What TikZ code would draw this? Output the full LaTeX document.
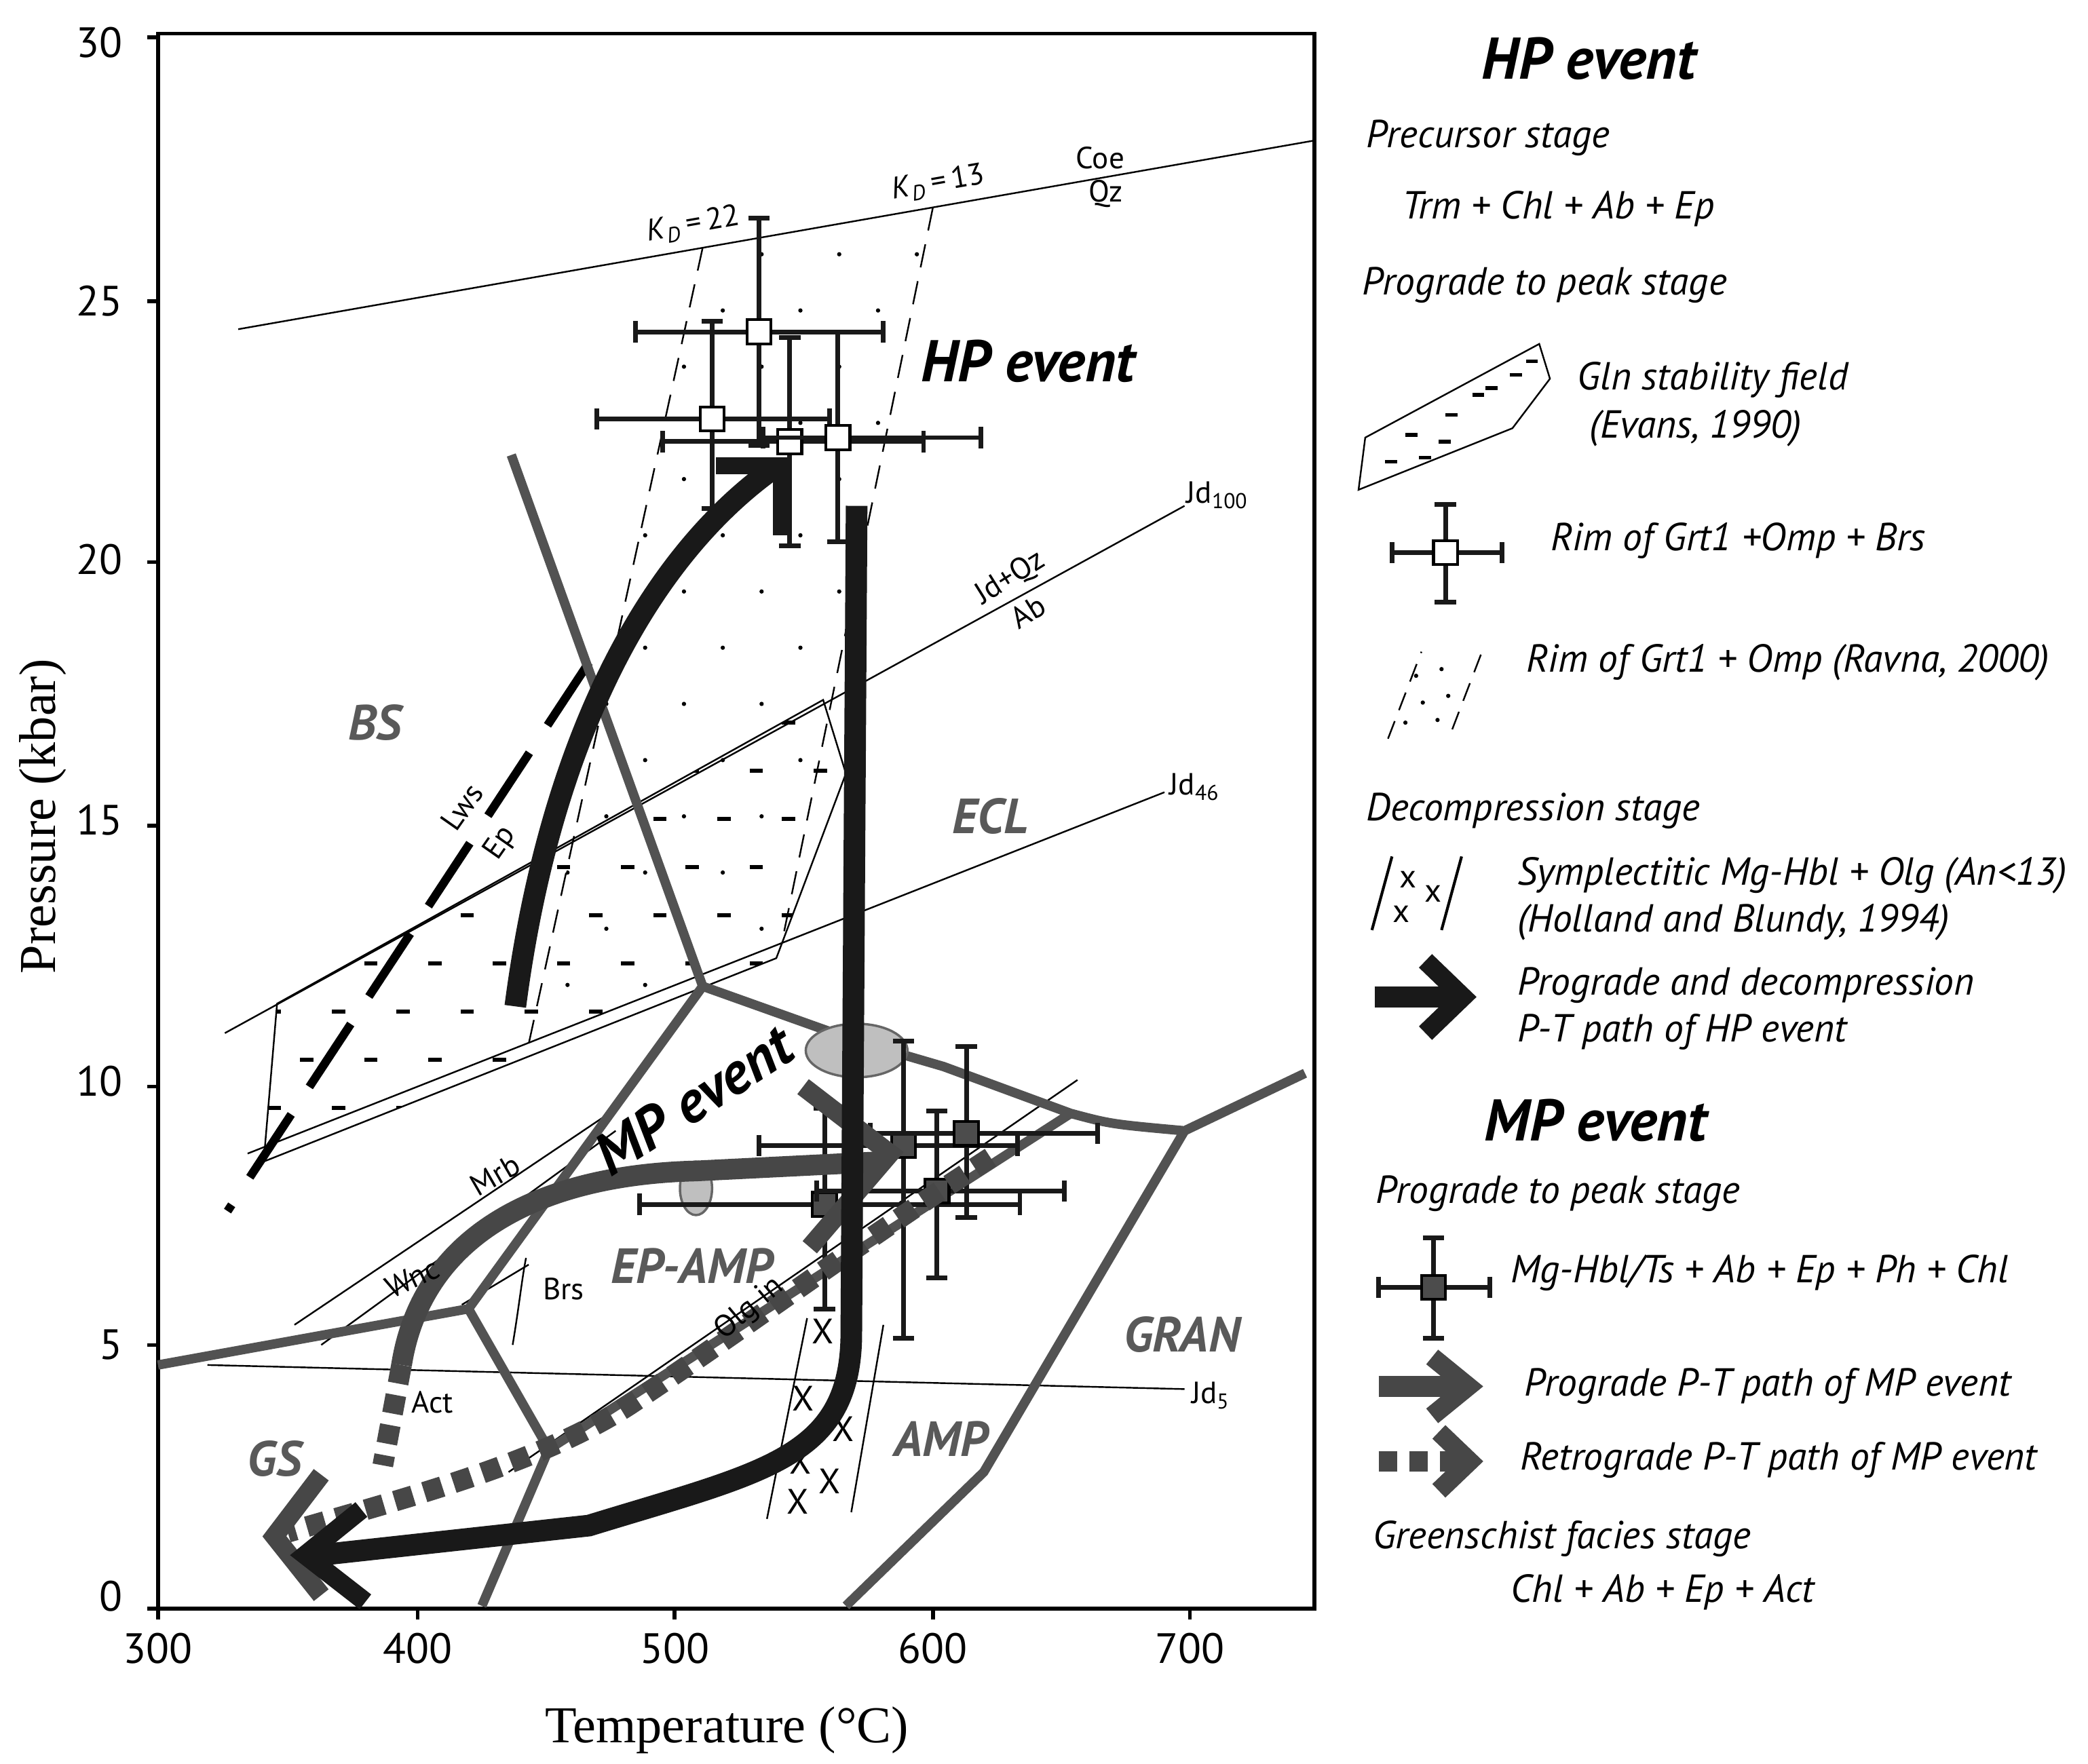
\documentclass[tikz,border=0pt]{standalone}
\usepackage{fontspec}
\setmainfont{Liberation Serif}
\newfontfamily\lgf{PT Sans}
\newcommand{\ebar}[7]{% x y x1 x2 y1 y2 style
  \draw[eb] (#3,#2)--(#4,#2) (#1,#5)--(#1,#6);
  \draw[eb] (#3,#2-8)--(#3,#2+8) (#4,#2-8)--(#4,#2+8) (#1-8,#5)--(#1+8,#5) (#1-8,#6)--(#1+8,#6);
  \node[#7] at (#1,#2) {};}
\begin{document}
\begin{tikzpicture}[x=0.01cm,y=-0.01cm,
  fac/.style={draw=black!68,line width=2pt},
  thin/.style={draw=black,line width=0.35pt},
  blk/.style={draw=black!90,line width=4.6pt},
  mpc/.style={draw=black!72,line width=4.4pt},
  chev/.style={line width=4pt,miter limit=10},
  flab/.style={font=\lgf\bfseries\itshape\fontsize{10.5}{12}\selectfont,text=black!65},
  sl/.style={font=\lgf\fontsize{6.5}{7}\selectfont,inner sep=0.5pt},
  lt/.style={font=\lgf\itshape\fontsize{8.3}{10}\selectfont,anchor=west,inner sep=0pt},
  evt/.style={font=\lgf\bfseries\itshape\fontsize{12.5}{14}\selectfont},
  wsq/.style={draw=black,fill=white,line width=0.6pt,minimum size=0.18cm,inner sep=0pt},
  gsq/.style={draw=black,fill=black!70,line width=0.6pt,minimum size=0.18cm,inner sep=0pt},
  eb/.style={line width=1pt,draw=black!90},
]
\useasboundingbox (0,0) rectangle (1560,1318);
% ---------- frame and axes
\draw[line width=0.8pt] (118,25) rectangle (982,1202);
\foreach \t/\x in {300/118,400/312,500/504,600/697,700/889}{
  \draw[line width=0.8pt] (\x,1202) -- (\x,1210);
  \node[font=\lgf\fontsize{9}{10}\selectfont] at (\x,1232) {\t};}
\foreach \p/\y in {0/1193,5/1005,10/808,15/613,20/418,25/225,30/32}{
  \node[font=\lgf\fontsize{9}{10}\selectfont,anchor=east] at (104,\y) {\p};}
\foreach \y in {1202,1005,812,617,420,225,28}{\draw[line width=0.8pt] (110,\y)--(118,\y);}
\node[font=\fontsize{11}{13}\selectfont] (tl) at (543,1293) {Temperature (°C)};
\node[font=\fontsize{11}{13}\selectfont,rotate=90] (pl) at (32,610) {Pressure (kbar)};
% ---------- pattern fields
\begin{scope}
\clip (525,185)--(697,155)--(584,700)--(395,780)--cycle;
\foreach \r in {0,...,13}{
  \foreach \c in {0,...,6}{
    \pgfmathsetmacro{\xx}{395+\c*58+mod(\r,2)*29}
    \pgfmathsetmacro{\yy}{190+\r*42}
    \fill (\xx,\yy) circle (1.6);}}
\end{scope}
\begin{scope}
\clip (207,750)--(615,523)--(632,578)--(580,716)--(197,868)--cycle;
\foreach \r in {0,...,9}{
  \foreach \c in {0,...,9}{
    \pgfmathsetmacro{\xx}{200+\c*48+mod(\r,2)*24}
    \pgfmathsetmacro{\yy}{540+\r*36}
    \draw[line width=0.8pt] (\xx,\yy) -- ++(10,0);}}
\end{scope}
\draw[thin] (207,750)--(615,523)--(632,578)--(580,716)--(197,868)--cycle;
\draw[thin,dash pattern=on 5pt off 3pt] (525,185)--(395,780);
\draw[thin,dash pattern=on 5pt off 3pt] (697,155)--(584,705);
% ---------- thin reaction lines
\draw[thin] (178,246)--(982,105);
\draw[thin] (168,772)--(885,378);
\draw[thin] (185,862)--(870,592);
\draw[thin] (155,1020)--(885,1038);
\draw[thin] (220,990)--(455,832);
\draw[thin] (240,1005)--(460,845);
\draw[thin] (380,1100)--(805,807);
\draw[thin] (383,1005)..controls (388,975) and (390,955)..(393,940);
\draw[thin] (345,975)--(395,945);
\draw[thin] (573,1135)--(603,985);
\draw[thin] (636,1130)--(660,990);
\foreach \p in {(600,1045),(630,1068),(598,1092),(620,1107),(596,1122),(615,995)}
  \node[font=\lgf\fontsize{7.5}{8}\selectfont,inner sep=0pt] at \p {X};
\draw[line width=1.8pt,dash pattern=on 16pt off 7pt] (440,495)--(170,905);
% ---------- facies boundaries
\draw[fac,line join=round] (382,340)--(525,737)--(640,778)--(705,797)--(800,832)..controls (830,840)..(885,845)--(975,802);
\draw[fac,line join=round] (885,845)--(735,1100)--(632,1200);
\draw[fac,line join=round] (525,737)--(350,978)--(118,1020);
\draw[fac,line join=round] (350,978)--(410,1083)--(360,1200);
\draw[fac] (410,1083)--(800,832);
% ---------- ellipses
\draw[fill=black!25,draw=black!60,line width=0.5pt] (640,785) ellipse (38 and 20);
\draw[fill=black!25,draw=black!60,line width=0.5pt] (520,888) ellipse (12 and 20);
% ---------- HP error bars
\ebar{567}{248}{475}{660}{163}{333}{wsq}
\ebar{532}{313}{446}{620}{240}{380}{wsq}
\ebar{590}{330}{495}{690}{252}{408}{wsq}
\ebar{626}{327}{570}{733}{248}{405}{wsq}
% ---------- MP error bars
\ebar{616}{900}{478}{762}{828}{978}{gsq}
\ebar{700}{890}{610}{795}{830}{955}{gsq}
\ebar{675}{856}{567}{760}{778}{1000}{gsq}
\ebar{722}{847}{650}{820}{782}{910}{gsq}
% ---------- paths
\draw[mpc,dash pattern=on 4pt off 2.5pt] (740,865)..controls (640,930) and (560,990)..(470,1050)..controls (400,1095) and (300,1120)..(215,1145);
\draw[mpc,dash pattern=on 4pt off 2.5pt] (300,1020)--(286,1095);
\draw[mpc,chev] (240,1102)--(205,1148)--(240,1192);
\draw[mpc] (300,1020)..controls (315,925) and (400,878)..(520,875)--(660,868);
\draw[mpc,chev] (600,812)--(665,862)--(605,932);
\draw[blk] (385,752)..controls (410,560) and (480,420)..(578,350);
\draw[black!90,line width=3.6pt,miter limit=10] (535,348)--(584,348)--(584,400);
\draw[blk] (640,378)--(636,1000)..controls (634,1090) and (570,1100)..(440,1140)--(230,1163);
\draw[black!90,chev] (270,1128)--(228,1162)--(273,1197);
% ---------- labels
\node[flab] at (280,540) {BS};
\node[flab] at (740,610) {ECL};
\node[flab] at (517,946) {EP-AMP};
\node[flab] at (883,997) {GRAN};
\node[flab] at (703,1075) {AMP};
\node[flab] at (205,1090) {GS};
\node[evt] at (768,270) {HP event};
\node[evt,rotate=33] at (518,822) {MP event};
\node[sl] at (822,118) {Coe};
\node[sl] at (826,145) {Qz};
\node[sl,rotate=10] at (518,168) {\textit{K}\textsubscript{\textit{D}}\,=\,22};
\node[sl,rotate=10] at (701,137) {\textit{K}\textsubscript{\textit{D}}\,=\,13};
\node[sl] at (910,370) {Jd\textsubscript{100}};
\node[sl] at (893,588) {Jd\textsubscript{46}};
\node[sl] at (905,1043) {Jd\textsubscript{5}};
\node[sl,rotate=32] at (755,432) {Jd+Qz};
\node[sl,rotate=32] at (768,457) {Ab};
\node[sl,rotate=55] at (345,603) {Lws};
\node[sl,rotate=55] at (374,630) {Ep};
\node[sl,rotate=30] at (370,878) {Mrb};
\node[sl,rotate=25] at (308,955) {Wnc};
\node[sl] at (421,963) {Brs};
\node[sl,rotate=40] at (560,978) {Olg in};
\node[sl] at (323,1048) {Act};
% ---------- legend
\node[evt] at (1187,44) {HP event};
\node[lt] at (1020,103) {Precursor stage};
\node[lt] at (1047,156) {Trm + Chl + Ab + Ep};
\node[lt] at (1017,213) {Prograde to peak stage};
\begin{scope}
\clip (1015,366)--(1020,327)--(1150,257)--(1158,283)--(1130,320)--cycle;
\foreach \p in {(1035,345),(1050,325),(1075,330),(1080,310),(1100,295),(1110,290),(1128,280),(1140,270),(1060,342)}
  \draw[line width=0.8pt] \p -- ++(9,0);
\end{scope}
\draw[thin] (1015,366)--(1020,327)--(1150,257)--(1158,283)--(1130,320)--cycle;
\node[lt] at (1178,284) {Gln stability field};
\node[lt] at (1187,320) {(Evans, 1990)};
\ebar{1080}{413}{1040}{1122}{377}{450}{wsq}
\node[lt] at (1158,404) {Rim of Grt1 +Omp + Brs};
\draw[thin,dash pattern=on 4pt off 2.5pt] (1037,552)--(1062,487);
\draw[thin,dash pattern=on 4pt off 2.5pt] (1085,545)--(1108,485);
\foreach \p in {(1058,505),(1077,500),(1063,525),(1082,520),(1050,540),(1074,538)} \fill \p circle (1.6);
\node[lt] at (1140,495) {Rim of Grt1 + Omp (Ravna, 2000)};
\node[lt] at (1020,606) {Decompression stage};
\draw[line width=0.6pt] (1025,695)--(1040,640) (1077,695)--(1092,640);
\node[font=\lgf\fontsize{7}{8}\selectfont,inner sep=0pt] at (1052,657) {x};
\node[font=\lgf\fontsize{7}{8}\selectfont,inner sep=0pt] at (1047,683) {x};
\node[font=\lgf\fontsize{7}{8}\selectfont,inner sep=0pt] at (1071,668) {x};
\node[lt] at (1133,654) {Symplectitic Mg-Hbl + Olg (An<13)};
\node[lt] at (1133,689) {(Holland and Blundy, 1994)};
\draw[blk] (1027,745)--(1088,745);
\draw[black!90,chev] (1065,718)--(1093,745)--(1065,772);
\node[lt] at (1133,736) {Prograde and decompression};
\node[lt] at (1133,771) {P-T path of HP event};
\node[evt] at (1192,837) {MP event};
\node[lt] at (1027,892) {Prograde to peak stage};
\ebar{1071}{962}{1030}{1113}{925}{1000}{gsq}
\node[lt] at (1128,951) {Mg-Hbl/Ts + Ab + Ep + Ph + Chl};
\draw[mpc] (1030,1036)--(1092,1036);
\draw[mpc,chev] (1070,1014)--(1097,1036)--(1070,1058);
\node[lt] at (1138,1036) {Prograde P-T path of MP event};
\draw[mpc,dash pattern=on 4pt off 2.5pt] (1030,1092)--(1090,1092);
\draw[mpc,chev] (1075,1070)--(1098,1092)--(1075,1114);
\node[lt] at (1135,1091) {Retrograde P-T path of MP event};
\node[lt] at (1025,1150) {Greenschist facies stage};
\node[lt] at (1128,1190) {Chl + Ab + Ep + Act};
\end{tikzpicture}
\end{document}
